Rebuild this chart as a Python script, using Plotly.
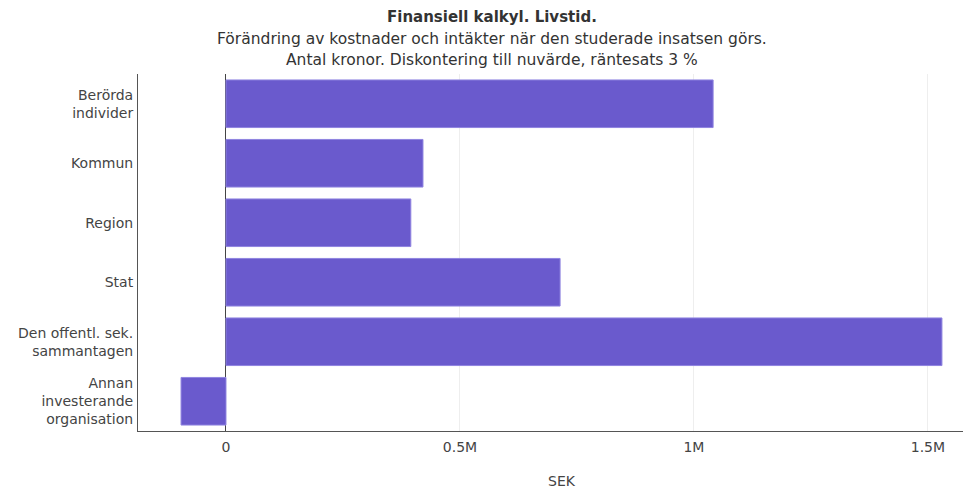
import plotly.graph_objects as go

# Net present value per stakeholder (SEK), lifetime horizon
categories = [
    "Berörda<br>individer",
    "Kommun",
    "Region",
    "Stat",
    "Den offentl. sek.<br>sammantagen",
    "Annan<br>investerande<br>organisation",
]
values = [1041000, 421000, 395000, 714000, 1530000, -96000]

tick_vals = [0, 500000, 1000000, 1500000]
tick_text = ["0", "0.5M", "1M", "1.5M"]

title_lines = [
    "<b>Finansiell kalkyl. Livstid.</b>",
    "Förändring av kostnader och intäkter när den studerade insatsen görs.",
    "Antal kronor. Diskontering till nuvärde, räntesats 3 %",
]

font_family = "DejaVu Sans, Verdana, sans-serif"

W, H = 966, 488
M_L, M_R, M_T, M_B = 138, 3, 74, 57
plot_h = H - M_T - M_B
plot_w = W - M_L - M_R

fig = go.Figure(
    go.Bar(
        x=values,
        y=categories,
        orientation="h",
        width=0.8,
        marker=dict(color="#6a5acd", line=dict(color="#8f84e0", width=1)),
    )
)

# Title block as three centred lines above the plot area
title_centre_x = (492 - M_L) / plot_w
line_px = [17, 39, 60]
for i, (text, ypx) in enumerate(zip(title_lines, line_px)):
    fig.add_annotation(
        text=text,
        xref="paper",
        yref="paper",
        x=title_centre_x,
        y=(H - M_B - ypx) / plot_h,
        xanchor="center",
        yanchor="middle",
        showarrow=False,
        font=dict(family=font_family, size=15.5 if i else 15, color="#333"),
    )

# Axis title placed below the tick labels
fig.add_annotation(
    text="SEK",
    xref="paper",
    yref="paper",
    x=(562 - M_L) / plot_w,
    y=-(481 - (H - M_B)) / plot_h,
    xanchor="center",
    yanchor="middle",
    showarrow=False,
    font=dict(family=font_family, size=14, color="#444"),
)

fig.update_layout(
    width=W,
    height=H,
    margin=dict(l=M_L, r=M_R, t=M_T, b=M_B),
    paper_bgcolor="white",
    plot_bgcolor="white",
    font=dict(family=font_family, size=14, color="#444"),
    showlegend=False,
    bargap=0.2,
)

fig.update_xaxes(
    range=[-188000, 1575000],
    tickvals=tick_vals,
    ticktext=tick_text,
    showgrid=True,
    gridcolor="#eeeeee",
    zeroline=True,
    zerolinecolor="#444",
    zerolinewidth=1,
    showline=True,
    linecolor="#555",
    linewidth=1,
    automargin=False,
    ticklabelstandoff=3,
    tickfont=dict(size=14, color="#444"),
)

fig.update_yaxes(
    autorange="reversed",
    showline=True,
    linecolor="#555",
    linewidth=1,
    showgrid=False,
    ticks="",
    automargin=False,
    ticklabelstandoff=1,
    tickfont=dict(size=14, color="#444"),
)

fig.write_html("out.html")
